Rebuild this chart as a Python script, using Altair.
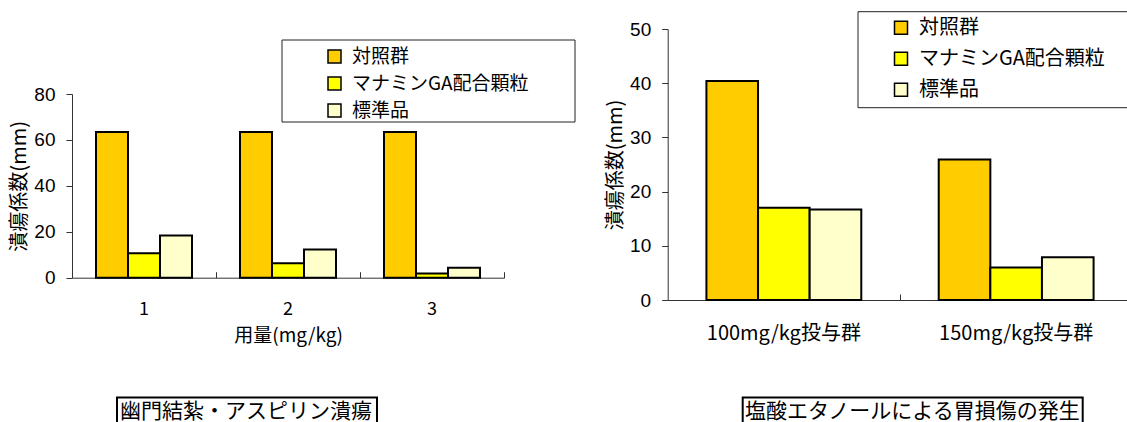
import altair as alt
import pandas as pd

# ---- data ----
series = ["対照群", "マナミンGA配合顆粒", "標準品"]
series_colors = ["#FFCC00", "#FFFF00", "#FFFFCC"]

left_doses = ["1", "2", "3"]
left_control = [63.5, 63.5, 63.5]
left_manamin = [10.6, 6.3, 1.8]
left_standard = [18.4, 12.3, 4.3]

right_groups = ["100mg/kg投与群", "150mg/kg投与群"]
right_control = [40.4, 25.9]
right_manamin = [17.0, 6.0]
right_standard = [16.7, 7.9]

y_title = "潰瘍係数(mm)"
left_x_title = "用量(mg/kg)"
left_caption = ["幽門結紮・アスピリン潰瘍"]
right_caption = ["塩酸エタノールによる胃損傷の発生"]

left_ticks = [0, 20, 40, 60, 80]
right_ticks = [0, 10, 20, 30, 40, 50]


def long_df(groups, cols):
    rows = []
    for s, vals in zip(series, cols):
        for g, v in zip(groups, vals):
            rows.append({"group": g, "series": s, "value": v})
    return pd.DataFrame(rows)


left_df = long_df(left_doses, [left_control, left_manamin, left_standard])
right_df = long_df(right_groups, [right_control, right_manamin, right_standard])

JP = "Noto Sans CJK JP"
NUM = "Liberation Sans, Arial, Noto Sans CJK JP"

W, H = 1055, 271


def make_legend(lx, ly, row_pad, sym_off, size):
    return alt.Legend(
        orient="none", legendX=lx, legendY=ly, direction="vertical",
        symbolType="square", symbolSize=169, symbolStrokeColor="black",
        symbolStrokeWidth=1.5, symbolOffset=sym_off,
        labelFont=JP, labelFontSize=size, labelColor="black", labelOffset=8,
        labelLimit=400, rowPadding=row_pad, padding=6,
    )


def bars(df, groups, x_range, y_dom, y_range, x_axis, y_axis, legend):
    return alt.Chart(df).mark_bar(stroke="black", strokeWidth=2).encode(
        x=alt.X("group:N", sort=groups,
                scale=alt.Scale(range=x_range, paddingInner=1 / 3, paddingOuter=1 / 6),
                axis=x_axis),
        xOffset=alt.XOffset("series:N", sort=series,
                            scale=alt.Scale(paddingInner=0, paddingOuter=0)),
        y=alt.Y("value:Q", scale=alt.Scale(domain=y_dom, range=y_range, nice=False, zero=True),
                axis=y_axis),
        color=alt.Color("series:N", sort=series,
                        scale=alt.Scale(domain=series, range=series_colors),
                        legend=legend, title=None),
    )


def x_axis(offset, title=None, label_pad=29, label_size=18):
    kw = dict(orient="bottom", offset=offset, labelAngle=0, bandPosition=1.25,
              tickSize=alt.ExprRef(expr="-6"), tickColor="#333", domainColor="#333",
              labelFont=JP, labelFontSize=label_size, labelColor="black", labelPadding=label_pad,
              labelLimit=400, grid=False)
    if title:
        kw.update(title=title, titleFont=JP, titleFontSize=19, titleFontWeight="normal",
                  titleColor="black", titlePadding=8)
    else:
        kw.update(title="")
    return alt.Axis(**kw)


def y_axis(values, offset):
    return alt.Axis(orient="left", offset=offset, values=values, grid=False,
                    tickSize=6, tickColor="#333", domainColor="#333",
                    labelFont=NUM, labelFontSize=19, labelColor="black", labelPadding=11,
                    title=y_title, titleFont=JP, titleFontSize=20, titleFontWeight="normal",
                    titleColor="black", titlePadding=4)


left = bars(left_df, left_doses, [0, 432], [0, 80], [248.7, 65],
            x_axis(-22.3, left_x_title), y_axis(left_ticks, 0),
            make_legend(210, 12, 7, 37, 19))

right = bars(right_df, right_groups, [595.7, 1060.3], [0, 50], [271, 0],
             x_axis(0, label_size=20), y_axis(right_ticks, -595.7),
             make_legend(786, -17.3, 11, 27, 20))


def frame(label, x1, x2, y1, y2, width):
    df = pd.DataFrame({"t": label})
    return alt.Chart(df).mark_rect(fill="white", stroke="#222", strokeWidth=width).encode(
        x=alt.value(x1), x2=alt.value(x2), y=alt.value(y1), y2=alt.value(y2))


def caption(text, tx, bx1, bx2):
    df = pd.DataFrame({"t": text})
    box = alt.Chart(df).mark_rect(fillOpacity=0, stroke="black", strokeWidth=2).encode(
        x=alt.value(bx1), x2=alt.value(bx2), y=alt.value(368.5), y2=alt.value(430))
    txt = alt.Chart(df).mark_text(align="left", baseline="middle", font=JP, fontSize=21,
                                  color="black").encode(
        text="t:N", x=alt.value(tx), y=alt.value(382.5))
    return box + txt


chart = alt.layer(
    frame(["legend-left"], 210, 503, 11, 93, 1),
    frame(["legend-right"], 786, 1080, -17.3, 78.7, 1),
    left, right,
    caption(left_caption, 48, 45, 305),
    caption(right_caption, 673, 670.7, 1010.7),
).resolve_scale(
    x="independent", y="independent", color="independent", xOffset="independent"
).resolve_axis(x="independent", y="independent").resolve_legend(color="independent").properties(
    width=W, height=H,
    autosize=alt.AutoSizeParams(type="none"),
    padding={"left": 72, "top": 29, "right": 0, "bottom": 122},
    background="white",
).configure_view(strokeWidth=0)

chart.save("out.html", embed_options={"renderer": "svg", "actions": False})
